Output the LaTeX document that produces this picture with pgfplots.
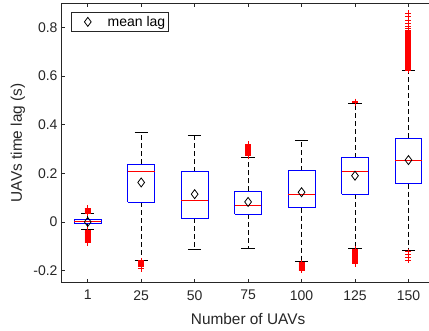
\documentclass[border=0pt]{standalone}
\usepackage{fontspec}
\setmainfont{Liberation Sans}
\usepackage{pgfplots}
\pgfplotsset{compat=1.18}
\definecolor{axgray}{rgb}{0.15,0.15,0.15}
\begin{document}
\begin{tikzpicture}
\begin{axis}[name=ax, at={(0,0)}, anchor=south west,
  scale only axis, width=374.2pt, height=279.7pt,
  xmin=0.5, xmax=7.5, ymin=-0.25, ymax=0.9,
  unbounded coords=jump,
  xtick={1,2,3,4,5,6,7}, xticklabels={1,25,50,75,100,125,150},
  ytick={-0.2,0,0.2,0.4,0.6,0.8},
  tick align=inside, xtick pos=both, ytick pos=left,
  major tick length=4pt,
  axis line style={axgray, line width=0.6pt},
  tick style={axgray, line width=0.6pt},
  /pgf/number format/assume math mode=true,
  ticklabel style={font=\fontsize{14}{16}\selectfont, text=axgray},
  xticklabel style={yshift=-4pt},
  xlabel={Number of UAVs}, ylabel={UAVs time lag (s)},
  label style={font=\fontsize{15.4}{17}\selectfont, text=axgray},
  xlabel style={at={(axis description cs:0.5,-0.151)}, anchor=base},
  ylabel style={at={(axis description cs:-0.115,0.5)}, anchor=center},
  legend style={at={(0.027,0.967)}, anchor=north west, draw=axgray, line width=0.6pt,
    fill=white, font=\fontsize{14}{16}\selectfont, inner xsep=2pt, inner ysep=2pt,
    nodes={inner sep=1.5pt, text=black}},
  legend cell align=left,
]
% whiskers (dashed)
\addplot[forget plot, black, line width=0.8pt, dash pattern=on 5pt off 3pt] coordinates {
  (1,0.012) (1,0.033) (nan,nan) (1,-0.008) (1,-0.030) (nan,nan)
  (2,0.238) (2,0.368) (nan,nan) (2,0.080) (2,-0.157) (nan,nan)
  (3,0.207) (3,0.355) (nan,nan) (3,0.015) (3,-0.115) (nan,nan)
  (4,0.125) (4,0.267) (nan,nan) (4,0.032) (4,-0.107) (nan,nan)
  (5,0.210) (5,0.337) (nan,nan) (5,0.059) (5,-0.164) (nan,nan)
  (6,0.264) (6,0.488) (nan,nan) (6,0.114) (6,-0.110) (nan,nan)
  (7,0.344) (7,0.621) (nan,nan) (7,0.157) (7,-0.117)};
% whisker caps
\addplot[forget plot, black, line width=0.8pt] coordinates {
  (0.875,0.033) (1.125,0.033) (nan,nan) (0.875,-0.030) (1.125,-0.030) (nan,nan)
  (1.875,0.368) (2.125,0.368) (nan,nan) (1.875,-0.157) (2.125,-0.157) (nan,nan)
  (2.875,0.355) (3.125,0.355) (nan,nan) (2.875,-0.115) (3.125,-0.115) (nan,nan)
  (3.875,0.267) (4.125,0.267) (nan,nan) (3.875,-0.107) (4.125,-0.107) (nan,nan)
  (4.875,0.337) (5.125,0.337) (nan,nan) (4.875,-0.164) (5.125,-0.164) (nan,nan)
  (5.875,0.488) (6.125,0.488) (nan,nan) (5.875,-0.110) (6.125,-0.110) (nan,nan)
  (6.875,0.621) (7.125,0.621) (nan,nan) (6.875,-0.117) (7.125,-0.117)};
% boxes
\addplot[forget plot, blue, line width=0.8pt] coordinates {
  (0.75,-0.008) (1.25,-0.008) (1.25,0.012) (0.75,0.012) (0.75,-0.008) (nan,nan)
  (1.75,0.080) (2.25,0.080) (2.25,0.238) (1.75,0.238) (1.75,0.080) (nan,nan)
  (2.75,0.015) (3.25,0.015) (3.25,0.207) (2.75,0.207) (2.75,0.015) (nan,nan)
  (3.75,0.032) (4.25,0.032) (4.25,0.125) (3.75,0.125) (3.75,0.032) (nan,nan)
  (4.75,0.059) (5.25,0.059) (5.25,0.210) (4.75,0.210) (4.75,0.059) (nan,nan)
  (5.75,0.114) (6.25,0.114) (6.25,0.264) (5.75,0.264) (5.75,0.114) (nan,nan)
  (6.75,0.157) (7.25,0.157) (7.25,0.344) (6.75,0.344) (6.75,0.157)};
% medians
\addplot[forget plot, red, line width=0.8pt] coordinates {
  (0.75,0.000) (1.25,0.000) (nan,nan)
  (1.75,0.206) (2.25,0.206) (nan,nan)
  (2.75,0.089) (3.25,0.089) (nan,nan)
  (3.75,0.067) (4.25,0.067) (nan,nan)
  (4.75,0.113) (5.25,0.113) (nan,nan)
  (5.75,0.206) (6.25,0.206) (nan,nan)
  (6.75,0.252) (7.25,0.252)};
% outliers
\addplot[forget plot, only marks, mark=+, mark size=3pt, red, mark options={line width=0.7pt}] table[row sep=\\] {
x y\\
1 0.036\\ 1 0.039\\ 1 0.042\\ 1 0.045\\ 1 0.048\\ 1 0.051\\ 1 0.054\\ 1 0.057\\
1 -0.033\\ 1 -0.037\\ 1 -0.041\\ 1 -0.045\\ 1 -0.049\\ 1 -0.053\\ 1 -0.057\\ 1 -0.061\\ 1 -0.065\\ 1 -0.069\\ 1 -0.073\\ 1 -0.077\\ 1 -0.081\\ 1 -0.085\\
2 -0.160\\ 2 -0.163\\ 2 -0.166\\ 2 -0.169\\ 2 -0.172\\ 2 -0.175\\ 2 -0.178\\ 2 -0.181\\ 2 -0.193\\
4 0.272\\ 4 0.276\\ 4 0.280\\ 4 0.284\\ 4 0.288\\ 4 0.292\\ 4 0.296\\ 4 0.300\\ 4 0.304\\ 4 0.308\\ 4 0.312\\ 4 0.316\\ 4 0.320\\
5 -0.168\\ 5 -0.172\\ 5 -0.176\\ 5 -0.180\\ 5 -0.184\\ 5 -0.188\\ 5 -0.192\\ 5 -0.196\\ 5 -0.199\\
6 0.490\\ 6 0.494\\
6 -0.113\\ 6 -0.117\\ 6 -0.121\\ 6 -0.125\\ 6 -0.129\\ 6 -0.133\\ 6 -0.137\\ 6 -0.141\\ 6 -0.145\\ 6 -0.149\\ 6 -0.153\\ 6 -0.157\\ 6 -0.161\\ 6 -0.165\\ 6 -0.172\\
7 0.625\\ 7 0.629\\ 7 0.633\\ 7 0.637\\ 7 0.641\\ 7 0.645\\ 7 0.649\\ 7 0.653\\ 7 0.657\\ 7 0.661\\ 7 0.665\\ 7 0.669\\ 7 0.673\\ 7 0.677\\ 7 0.681\\ 7 0.685\\ 7 0.689\\ 7 0.693\\ 7 0.697\\ 7 0.701\\ 7 0.705\\ 7 0.709\\ 7 0.713\\ 7 0.717\\ 7 0.721\\ 7 0.725\\ 7 0.729\\ 7 0.733\\ 7 0.737\\ 7 0.741\\ 7 0.745\\ 7 0.749\\ 7 0.753\\ 7 0.757\\ 7 0.761\\ 7 0.765\\ 7 0.769\\ 7 0.773\\ 7 0.777\\ 7 0.781\\ 7 0.785\\ 7 0.789\\ 7 0.794\\ 7 0.805\\ 7 0.816\\ 7 0.830\\ 7 0.847\\ 7 0.858\\
7 -0.122\\ 7 -0.133\\ 7 -0.146\\ 7 -0.157\\
};
% means
\addplot[only marks, mark=diamond, mark size=4.5pt, black, line width=0.8pt,
  legend image code/.code={\draw[only marks] plot coordinates {(14pt,0pt)}; \path (0pt,-4pt) (32pt,4pt);}]
  coordinates {(1,0.0) (2,0.162) (3,0.114) (4,0.082) (5,0.122) (6,0.190) (7,0.254)};
\addlegendentry{mean lag}
\end{axis}
\pgfresetboundingbox
\path[use as bounding box] ([xshift=-61pt,yshift=-48.3pt]ax.south west) rectangle ([xshift=368pt,yshift=282.7pt]ax.south west);
\end{tikzpicture}
\end{document}
